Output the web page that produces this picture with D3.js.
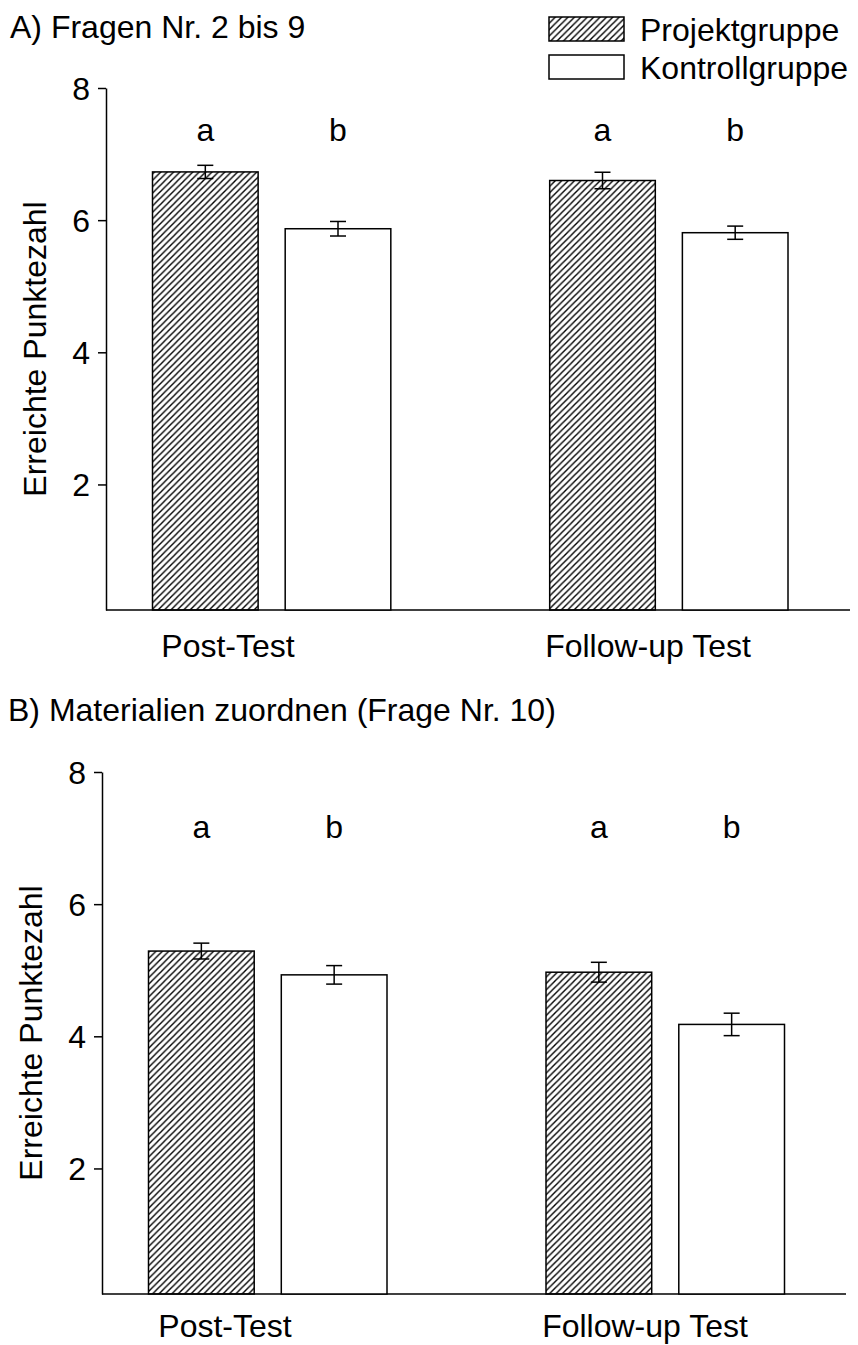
<!DOCTYPE html>
<html>
<head>
<meta charset="utf-8">
<script src="https://cdn.jsdelivr.net/npm/d3@7"></script>
<style>
    body { margin: 0; background: #fff; }
    svg text { font-family: "Liberation Sans", Arial, sans-serif; fill: #000; }
</style>
</head>
<body>
<div id="vis"></div>
<script>
const tests = ['Post-Test', 'Follow-up Test'];
const groups = ['Projektgruppe', 'Kontrollgruppe'];
const yTicks = [2, 4, 6, 8];

// Panel A: Fragen Nr. 2 bis 9
const projektA = [6.73, 6.60];
const projektErrA = [0.10, 0.125];
const kontrollA = [5.87, 5.81];
const kontrollErrA = [0.11, 0.10];

// Panel B: Materialien zuordnen
const projektB = [5.29, 4.97];
const projektErrB = [0.12, 0.15];
const kontrollB = [4.93, 4.18];
const kontrollErrB = [0.14, 0.17];

const W = 858, H = 1345;
const svg = d3.select('#vis')
    .append('svg')
    .attr('width', W)
    .attr('height', H);

// diagonal hatch like the original
const defs = svg.append('defs');
defs.append('pattern')
    .attr('id', 'hatch')
    .attr('patternUnits', 'userSpaceOnUse')
    .attr('width', 6.4)
    .attr('height', 6.4)
    .append('path')
    .attr('d', 'M-1,1 l2,-2 M0,6.4 l6.4,-6.4 M5.4,7.4 l2,-2')
    .attr('stroke', '#000')
    .attr('stroke-width', 1.4);

function buildRows(projekt, projektErr, kontroll, kontrollErr) {
    const rows = [];
    tests.forEach((t, i) => {
        rows.push({ test: t, group: groups[0], value: projekt[i], err: projektErr[i], letter: 'a' });
        rows.push({ test: t, group: groups[1], value: kontroll[i], err: kontrollErr[i], letter: 'b' });
    });
    return rows;
}

function drawPanel(cfg) {
    const g = svg.append('g');
    const rows = buildRows(cfg.projekt, cfg.projektErr, cfg.kontroll, cfg.kontrollErr);

    const y = d3.scaleLinear().domain([0.1, 8]).range([cfg.bottom, cfg.top]);
    const x0 = d3.scaleBand().domain(tests).range(cfg.barRange).paddingInner(0.4);
    const x1 = d3.scaleBand().domain(groups).range([0, x0.bandwidth()]).paddingInner(0.204);
    const xLabel = d3.scalePoint().domain(tests).range(cfg.labelRange);

    // y axis
    const yAxis = d3.axisLeft(y).tickValues(yTicks).tickSize(8).tickSizeOuter(0).tickPadding(8);
    const ya = g.append('g')
        .attr('class', 'axis')
        .attr('transform', `translate(${cfg.left},0)`)
        .call(yAxis);
    ya.select('.domain').attr('stroke-width', 1.5);
    ya.selectAll('.tick line').attr('stroke-width', 1.5);
    ya.selectAll('.tick text')
        .style('font-size', '32px')
        .attr('dy', '0.36em');

    // x axis baseline
    g.append('line')
        .attr('x1', cfg.left)
        .attr('x2', cfg.right)
        .attr('y1', y(0.1))
        .attr('y2', y(0.1))
        .attr('stroke', '#000')
        .attr('stroke-width', 1.5);

    // bars
    g.selectAll('.bar')
        .data(rows)
        .join('rect')
        .attr('class', 'bar')
        .attr('x', d => x0(d.test) + x1(d.group))
        .attr('y', d => y(d.value))
        .attr('width', x1.bandwidth())
        .attr('height', d => y(0.1) - y(d.value))
        .attr('fill', d => d.group === groups[0] ? 'url(#hatch)' : '#fff')
        .attr('stroke', '#000')
        .attr('stroke-width', 1.5);

    // error bars
    const cx = d => x0(d.test) + x1(d.group) + x1.bandwidth() / 2;
    const eb = g.selectAll('.err')
        .data(rows)
        .join('g')
        .attr('class', 'err')
        .attr('stroke', '#000')
        .attr('stroke-width', 1.5);
    eb.append('line')
        .attr('x1', cx).attr('x2', cx)
        .attr('y1', d => y(d.value + d.err))
        .attr('y2', d => y(d.value - d.err));
    eb.append('line')
        .attr('x1', d => cx(d) - 8).attr('x2', d => cx(d) + 8)
        .attr('y1', d => y(d.value + d.err))
        .attr('y2', d => y(d.value + d.err));
    eb.append('line')
        .attr('x1', d => cx(d) - 8).attr('x2', d => cx(d) + 8)
        .attr('y1', d => y(d.value - d.err))
        .attr('y2', d => y(d.value - d.err));

    // significance letters
    g.selectAll('.letter')
        .data(rows)
        .join('text')
        .attr('class', 'letter')
        .attr('x', cx)
        .attr('y', y(cfg.letterY))
        .attr('text-anchor', 'middle')
        .style('font-size', '32px')
        .text(d => d.letter);

    // category labels
    g.selectAll('.cat')
        .data(tests)
        .join('text')
        .attr('class', 'cat')
        .attr('x', d => xLabel(d))
        .attr('y', cfg.bottom + cfg.catDy)
        .attr('text-anchor', 'middle')
        .style('font-size', '32px')
        .text(d => d);

    // y label
    g.append('text')
        .attr('transform', 'rotate(-90)')
        .attr('x', -(cfg.top + cfg.bottom) / 2)
        .attr('y', cfg.labelX)
        .attr('text-anchor', 'middle')
        .style('font-size', '32px')
        .text('Erreichte Punktezahl');

    // panel title
    g.append('text')
        .attr('x', cfg.titleX)
        .attr('y', cfg.titleY)
        .style('font-size', '32px')
        .text(cfg.title);
}

drawPanel({
    title: 'A) Fragen Nr. 2 bis 9', titleX: 10, titleY: 38,
    left: 106, right: 850, top: 88, bottom: 610,
    barRange: [152.5, 788], labelRange: [228, 648], catDy: 47,
    labelX: 46, letterY: 7.2,
    projekt: projektA, projektErr: projektErrA, kontroll: kontrollA, kontrollErr: kontrollErrA
});

drawPanel({
    title: 'B) Materialien zuordnen (Frage Nr. 10)', titleX: 8, titleY: 721,
    left: 102, right: 846, top: 772, bottom: 1294,
    barRange: [148.5, 784.5], labelRange: [225, 645], catDy: 43,
    labelX: 42, letterY: 7.0,
    projekt: projektB, projektErr: projektErrB, kontroll: kontrollB, kontrollErr: kontrollErrB
});

// legend
const legend = svg.append('g').attr('transform', 'translate(549,17)');
legend.selectAll('rect')
    .data(groups)
    .join('rect')
    .attr('x', 0)
    .attr('y', (d, i) => i * 38)
    .attr('width', 75)
    .attr('height', 24)
    .attr('fill', (d, i) => i === 0 ? 'url(#hatch)' : '#fff')
    .attr('stroke', '#000')
    .attr('stroke-width', 1.5);
legend.selectAll('text')
    .data(groups)
    .join('text')
    .attr('x', 91)
    .attr('y', (d, i) => i * 38 + 24)
    .style('font-size', '32px')
    .text(d => d);
</script>
</body>
</html>
